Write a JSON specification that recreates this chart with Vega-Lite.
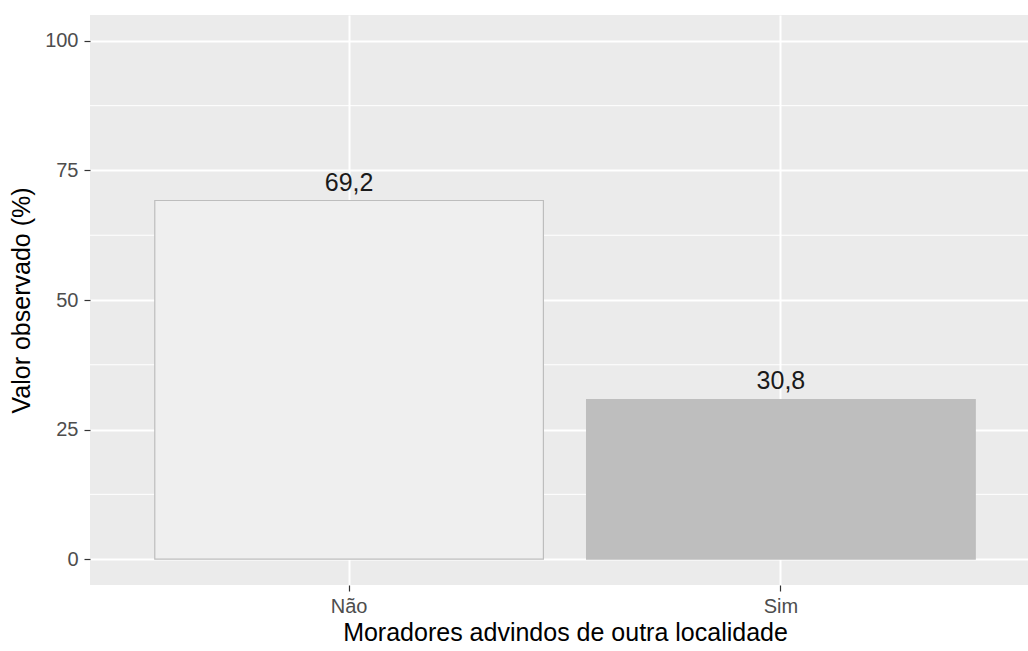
{
  "$schema": "https://vega.github.io/schema/vega-lite/v6.json",
  "autosize": "none",
  "width": 938,
  "height": 570,
  "padding": {"left": 90, "top": 15, "right": 0, "bottom": 66},
  "background": "white",
  "config": {
    "font": "Liberation Sans",
    "view": {"fill": "#EBEBEB", "stroke": null},
    "axis": {
      "gridColor": "white",
      "gridWidth": 2,
      "domain": false,
      "tickColor": "#333333",
      "tickSize": 6,
      "tickWidth": 1.2,
      "labelColor": "#4D4D4D",
      "labelFontSize": 20,
      "labelPadding": 6,
      "titleColor": "black",
      "titleFontSize": 25,
      "titleFontWeight": "normal"
    }
  },
  "datasets": {
    "bars": [
      {"categoria": "Não", "valor": 69.2, "rotulo": "69,2"},
      {"categoria": "Sim", "valor": 30.8, "rotulo": "30,8"}
    ],
    "minor": [
      {"y": 12.5}, {"y": 37.5}, {"y": 62.5}, {"y": 87.5}
    ]
  },
  "layer": [
    {
      "data": {"name": "minor"},
      "mark": {"type": "rule", "color": "white", "strokeWidth": 1},
      "encoding": {
        "y": {"field": "y", "type": "quantitative", "scale": {"domain": [-5, 105], "nice": false, "zero": false}}
      }
    },
    {
      "data": {"name": "bars"},
      "mark": {"type": "bar", "strokeWidth": 1.2},
      "encoding": {
        "x": {
          "field": "categoria", "type": "nominal",
          "scale": {"range": [0, 950], "paddingInner": 0.1, "paddingOuter": 0.15},
          "axis": {"title": "Moradores advindos de outra localidade", "labelAngle": 0, "grid": true, "bandPosition": 0.5, "titlePadding": 4, "labelPadding": 5}
        },
        "y": {
          "field": "valor", "type": "quantitative",
          "scale": {"domain": [-5, 105], "nice": false, "zero": false},
          "axis": {"title": "Valor observado (%)", "values": [0, 25, 50, 75, 100], "titlePadding": 10}
        },
        "y2": {"datum": 0},
        "fill": {
          "field": "categoria", "type": "nominal",
          "scale": {"domain": ["Não", "Sim"], "range": ["#EFEFEF", "#BEBEBE"]},
          "legend": null
        },
        "stroke": {
          "field": "categoria", "type": "nominal",
          "scale": {"domain": ["Não", "Sim"], "range": ["#BDBDBD", "#BEBEBE"]},
          "legend": null
        }
      }
    },
    {
      "data": {"name": "bars"},
      "mark": {"type": "text", "fontSize": 25, "color": "#1A1A1A", "baseline": "bottom", "dy": -5},
      "encoding": {
        "x": {"field": "categoria", "type": "nominal", "bandPosition": 0.5},
        "y": {"field": "valor", "type": "quantitative"},
        "text": {"field": "rotulo"}
      }
    }
  ]
}
